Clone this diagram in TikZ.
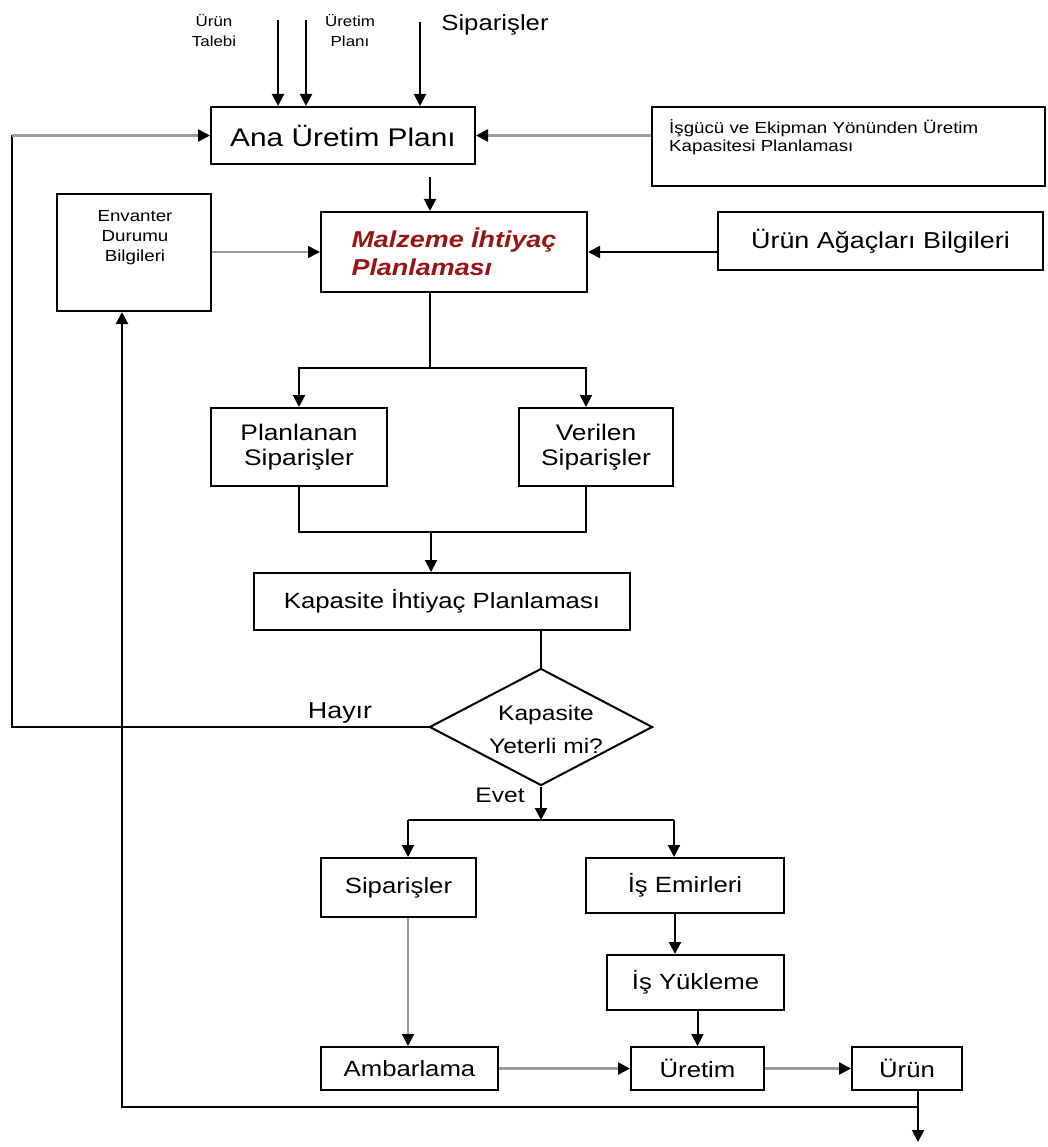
\documentclass[tikz,border=0pt]{standalone}
\usepackage{fontspec}
\setmainfont{Liberation Sans}[FakeStretch=1.17]
\usetikzlibrary{arrows.meta,shapes.geometric}
\definecolor{mrpred}{RGB}{150,22,22}
\definecolor{lightline}{RGB}{155,155,155}

\begin{document}
\begin{tikzpicture}[x=1pt,y=-1pt,
  box/.style={draw, line width=2pt, inner sep=0pt, align=center},
  txt/.style={inner sep=0pt, align=center},
  line/.style={line width=2pt},
  arrow/.style={line width=2pt, -{Triangle[length=12pt,width=12pt]}},
  garrow/.style={line width=2.4pt, draw=lightline, -{Triangle[length=12pt,width=12pt,color=black]}},
]
\useasboundingbox (0,0) rectangle (1047,1147);

% inputs at the top
\node[txt, font=\fontsize{14.5}{20}\selectfont] (talep) at (214,31) {Ürün\\Talebi};
\node[txt, font=\fontsize{14.5}{20}\selectfont] (uplan) at (350,31) {Üretim\\Planı};
\node[txt, font=\fontsize{22}{26}\selectfont] (sipt) at (495,25) {Siparişler};
\coordinate (t1) at (278,20);
\coordinate (t2) at (306,20);
\coordinate (t3) at (420,22);

% planning boxes
\node[box, minimum width=264pt, minimum height=57pt, font=\fontsize{25.5}{30}\selectfont] (ana) at (343,135.5) {Ana Üretim Planı};
\node[box, minimum width=393pt, minimum height=79pt] (isg) at (848.5,147) {};
\node[txt, anchor=north west, align=left, font=\fontsize{16}{18}\selectfont] (isgt) at (669,119) {İşgücü ve Ekipman Yönünden Üretim\\Kapasitesi Planlaması};
\node[box, minimum width=154pt, minimum height=117pt] (env) at (134,252.5) {};
\node[txt, anchor=north, font=\fontsize{16}{20}\selectfont] (envt) at (135,210) {Envanter\\Durumu\\Bilgileri};
\node[box, minimum width=266pt, minimum height=80pt, align=left, text=mrpred, font=\fontsize{23}{28}\selectfont\bfseries\itshape] (mrp) at (454,252) {Malzeme İhtiyaç\\Planlaması};
\node[box, minimum width=325pt, minimum height=58pt, font=\fontsize{23}{27}\selectfont] (agac) at (880.5,241) {Ürün Ağaçları Bilgileri};

\node[box, minimum width=176pt, minimum height=78pt, font=\fontsize{22.5}{25}\selectfont] (plan) at (299,447) {Planlanan\\Siparişler};
\node[box, minimum width=154pt, minimum height=78pt, font=\fontsize{22.5}{25}\selectfont] (ver) at (596,447) {Verilen\\Siparişler};
\node[box, minimum width=376pt, minimum height=57pt, font=\fontsize{22}{26}\selectfont] (kip) at (442,601.5) {Kapasite İhtiyaç Planlaması};

% decision
\node[draw, diamond, line width=2pt, inner sep=0pt, minimum width=223pt, minimum height=117pt] (dia) at (541,727) {};
\node[txt, font=\fontsize{21}{33}\selectfont] (diat) at (546,729) {Kapasite\\Yeterli mi?};
\node[txt, font=\fontsize{23}{27}\selectfont] (hayir) at (340,713) {Hayır};
\node[txt, font=\fontsize{21}{25}\selectfont] (evet) at (500,795) {Evet};

% execution
\node[box, minimum width=155pt, minimum height=59pt, font=\fontsize{22}{26}\selectfont] (sip) at (398.5,887.5) {Siparişler};
\node[box, minimum width=198pt, minimum height=55pt, font=\fontsize{22}{26}\selectfont] (ise) at (685,885.5) {İş Emirleri};
\node[box, minimum width=177pt, minimum height=55pt, font=\fontsize{22}{26}\selectfont] (isy) at (695.5,982.5) {İş Yükleme};
\node[box, minimum width=177pt, minimum height=43pt, font=\fontsize{22}{26}\selectfont] (amb) at (409.5,1068.5) {Ambarlama};
\node[box, minimum width=133pt, minimum height=43pt, font=\fontsize{22}{26}\selectfont] (ure) at (697.5,1068.5) {Üretim};
\node[box, minimum width=110pt, minimum height=43pt, font=\fontsize{22}{26}\selectfont] (urun) at (907,1068.5) {Ürün};

% routing points
\coordinate (a1) at (430,177);
\coordinate (s1) at (430,368);
\coordinate (vx) at (586,368);
\coordinate (j1) at (431,532);
\coordinate (nw) at (12,135.5);
\coordinate (e1) at (541,820);
\coordinate (lx) at (408,820);
\coordinate (rx) at (674,820);
\coordinate (bj) at (918,1107);
\coordinate (fx) at (122,1107);
\coordinate (out) at (918,1142);

% connectors
\draw[arrow] (t1) -- (t1 |- ana.north);
\draw[arrow] (t2) -- (t2 |- ana.north);
\draw[arrow] (t3) -- (t3 |- ana.north);
\draw[garrow] (isg.west |- ana) -- (ana.east);
\draw[arrow] (a1) -- (a1 |- mrp.north);
\draw[garrow, line width=1.6pt] (env.east |- mrp) -- (mrp.west);
\draw[arrow] (agac.west |- mrp) -- (mrp.east);

\draw[line] (mrp.south -| s1) -- (s1);
\draw[arrow] (s1) -| (plan.north);
\draw[arrow] (s1) -| (ver.north -| vx);
\draw[line] (plan.south) |- (j1) -| (ver.south -| vx);
\draw[arrow] (j1) -- (kip.north -| j1);
\draw[line] (kip.south -| dia) -- (dia.north);

\draw[line] (dia.west) -| (nw);
\draw[garrow] (nw) -- (ana.west);

\draw[arrow] (dia.south) -- (e1);
\draw[line] (lx) -- (rx);
\draw[arrow] (lx) -- (sip.north -| lx);
\draw[arrow] (rx) -- (ise.north -| rx);
\draw[arrow] (ise.south -| 675,0) -- (isy.north -| 675,0);
\draw[arrow] (isy.south -| ure) -- (ure.north);
\draw[garrow] (sip.south -| lx) -- (amb.north -| lx);
\draw[garrow] (amb) -- (ure);
\draw[garrow] (ure) -- (urun);

\draw[arrow] (urun.south -| bj) -- (out);
\draw[arrow] (bj) -- (fx) -- (env.south -| fx);
\end{tikzpicture}
\end{document}
